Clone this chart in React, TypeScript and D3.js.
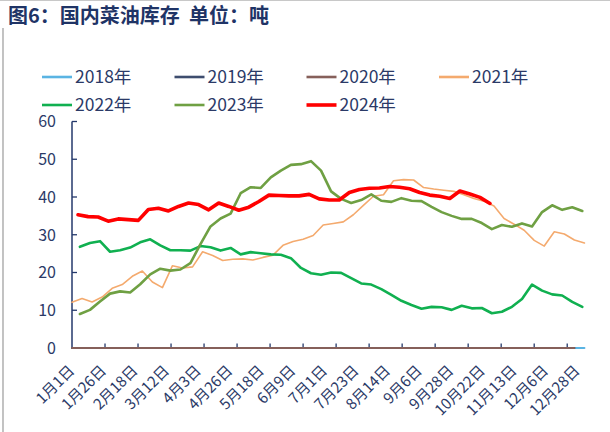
import React from 'react';
import * as d3 from 'd3';

const title = '图6：国内菜油库存\u00A0\u00A0单位：吨';

const xLabels = ['1月1日', '1月26日', '2月18日', '3月12日', '4月3日', '4月26日', '5月18日', '6月9日', '7月1日', '7月23日', '8月14日', '9月6日', '9月28日', '10月22日', '11月13日', '12月6日', '12月28日'];
const yTicks = [0, 10, 20, 30, 40, 50, 60];

const years = ['2018年', '2019年', '2020年', '2021年', '2022年', '2023年', '2024年'];
const colors = ['#5AB4E3', '#3E4D6E', '#86605A', '#F4AA6E', '#10B050', '#6FA043', '#FF0000'];
const widths = [2, 2, 2, 1.6, 2.6, 2.6, 3.6];
const startDays = [0, 0, 0, 0, 5.5, 5.5, 4.2];

const s2018 = [0,0,0,0,0,0,0,0,0,0,0,0,0,0,0,0,0,0,0,0,0,0,0,0,0,0,0,0,0,0,0,0,0,0,0,0,0,0,0,0,0,0,0,0,0,0,0,0,0,0,0,0];
const s2019 = [0,0,0,0,0,0,0,0,0,0,0,0,0,0,0,0,0,0,0,0,0,0,0,0,0,0,0,0,0,0,0,0,0,0,0,0,0,0,0,0,0,0,0,0,0,0,0,0,0,0,0];
const s2020 = [0,0,0,0,0,0,0,0,0,0,0,0,0,0,0,0,0,0,0,0,0,0,0,0,0,0,0,0,0,0,0,0,0,0,0,0,0,0,0,0,0,0,0,0,0,0,0,0,0,0,0];
const s2021 = [12.1, 13.1, 12.2, 13.5, 15.8, 16.8, 19.0, 20.4, 17.5, 16.0, 21.8, 21.2, 21.5, 25.5, 24.5, 23.2, 23.5, 23.6, 23.3, 24.0, 24.6, 27.2, 28.2, 28.8, 29.8, 32.6, 33.0, 33.4, 35.3, 37.8, 40.2, 40.6, 44.3, 44.6, 44.5, 42.5, 42.1, 41.8, 41.5, 40.6, 39.6, 38.9, 37.6, 34.3, 32.8, 31.2, 28.5, 27.0, 30.8, 30.2, 28.6, 27.8];
const s2022 = [26.8, 27.8, 28.3, 25.5, 25.9, 26.6, 28.0, 28.8, 27.2, 25.9, 25.9, 25.8, 27.0, 26.7, 25.8, 26.5, 24.8, 25.4, 25.1, 24.8, 24.7, 23.8, 21.2, 19.8, 19.4, 20.0, 19.9, 18.5, 17.1, 16.8, 15.6, 14.1, 12.5, 11.4, 10.4, 10.9, 10.8, 10.1, 11.2, 10.5, 10.6, 9.2, 9.6, 10.9, 13.0, 16.8, 15.2, 14.2, 13.9, 12.2, 10.9];
const s2023 = [9.0, 10.1, 12.3, 14.4, 15.0, 14.7, 16.9, 19.5, 21.0, 20.5, 20.8, 22.5, 27.5, 32.2, 34.3, 35.6, 41.0, 42.6, 42.4, 45.2, 47.0, 48.5, 48.7, 49.5, 47.0, 41.5, 39.5, 38.4, 39.2, 40.7, 39.0, 38.7, 39.7, 39.0, 38.9, 37.4, 36.0, 35.0, 34.2, 34.2, 33.1, 31.5, 32.6, 32.1, 33.0, 32.2, 36.0, 37.8, 36.6, 37.3, 36.3];
const s2024 = [35.3, 34.8, 34.7, 33.6, 34.2, 34.0, 33.8, 36.7, 37.0, 36.3, 37.5, 38.4, 38.0, 36.6, 38.4, 37.5, 36.5, 37.3, 38.8, 40.5, 40.4, 40.3, 40.3, 40.7, 39.5, 39.2, 39.2, 41.2, 42.0, 42.3, 42.4, 42.8, 42.6, 42.2, 41.2, 40.5, 40.2, 39.6, 41.6, 40.8, 39.9, 38.3];

const seriesValues = [s2018, s2019, s2020, s2021, s2022, s2023, s2024];

const DAY_STEP = 7;
const LABEL_STEP = 22;
const TICK_STEP = 23;
const X_DOMAIN_MAX = 356;

const FONT = '"Noto Sans CJK SC", "Noto Sans", sans-serif';
const TEXT_COLOR = '#2B3A67';
const AXIS_COLOR = '#24396B';

export default function App() {
  const W = 610;
  const H = 432;
  const x = d3.scaleLinear().domain([0, X_DOMAIN_MAX]).range([72, 583]);
  const y = d3.scaleLinear().domain([0, 60]).range([348, 121.5]);

  const line = d3
    .line<{ d: number; v: number }>()
    .x((p) => x(p.d))
    .y((p) => y(p.v))
    .curve(d3.curveLinear);

  const paths = seriesValues.map((vals, si) =>
    line(vals.map((v, i) => ({ d: startDays[si] + i * DAY_STEP, v })))
  );

  const tickDays = d3.range(1, 16).map((j) => j * TICK_STEP);
  const labelDays = xLabels.map((_, k) => k * LABEL_STEP + 0.5);

  const legendX = [42, 174.5, 306.5, 439];
  const legendY = [77, 105];

  return (
    <svg width={W} height={H} style={{ position: 'absolute', left: 0, top: 0, background: '#fff' }} fontFamily={FONT}>
      <rect x={0} y={0} width={W} height={H} fill="#fff" />
      <line x1={0} x2={W} y1={0.5} y2={0.5} stroke="#c8c8c8" strokeWidth={1} />
      <line x1={3} x2={3} y1={28} y2={H} stroke="#9a9a9a" strokeWidth={1.2} />
      <text x={8} y={23} fontSize={20} fontWeight="bold" fill="#1F3466">{title}</text>

      {years.map((yr, i) => {
        const col = i % 4;
        const row = Math.floor(i / 4);
        const lx = legendX[col];
        const ly = legendY[row];
        return (
          <g key={yr}>
            <line x1={lx} x2={lx + 30} y1={ly} y2={ly} stroke={colors[i]} strokeWidth={i === 6 ? 3.6 : 2.6} />
            <text x={lx + 33} y={ly} dy="0.36em" fontSize={17.5} fill={TEXT_COLOR}>{yr}</text>
          </g>
        );
      })}

      {/* y axis */}
      <line x1={x(0)} x2={x(0)} y1={y(60)} y2={y(0)} stroke={AXIS_COLOR} strokeWidth={1.5} />
      {yTicks.map((t) => (
        <g key={t}>
          <line x1={x(0)} x2={x(0) + 5} y1={y(t)} y2={y(t)} stroke={AXIS_COLOR} strokeWidth={1.3} />
          <text x={56} y={y(t)} dy="0.36em" textAnchor="end" fontSize={16} fill={TEXT_COLOR}>{t}</text>
        </g>
      ))}

      {/* x axis */}
      <line x1={x(0)} x2={x(X_DOMAIN_MAX)} y1={y(0)} y2={y(0)} stroke={AXIS_COLOR} strokeWidth={1.5} />
      {tickDays.map((d) => (
        <line key={d} x1={x(d)} x2={x(d)} y1={y(0)} y2={y(0) - 4.5} stroke={AXIS_COLOR} strokeWidth={1.3} />
      ))}
      {labelDays.map((d, k) => {
        const ax = x(d) - 1;
        const ay = 368;
        return (
          <text key={k} x={ax} y={ay} transform={`rotate(-45 ${ax} ${ay})`} textAnchor="end" dy="0.35em" fontSize={15} fill={TEXT_COLOR}>
            {xLabels[k]}
          </text>
        );
      })}

      {paths.map((p, i) => (
        <path key={i} d={p || ''} fill="none" stroke={colors[i]} strokeWidth={widths[i]} strokeLinejoin="round" strokeLinecap="round" />
      ))}
    </svg>
  );
}
